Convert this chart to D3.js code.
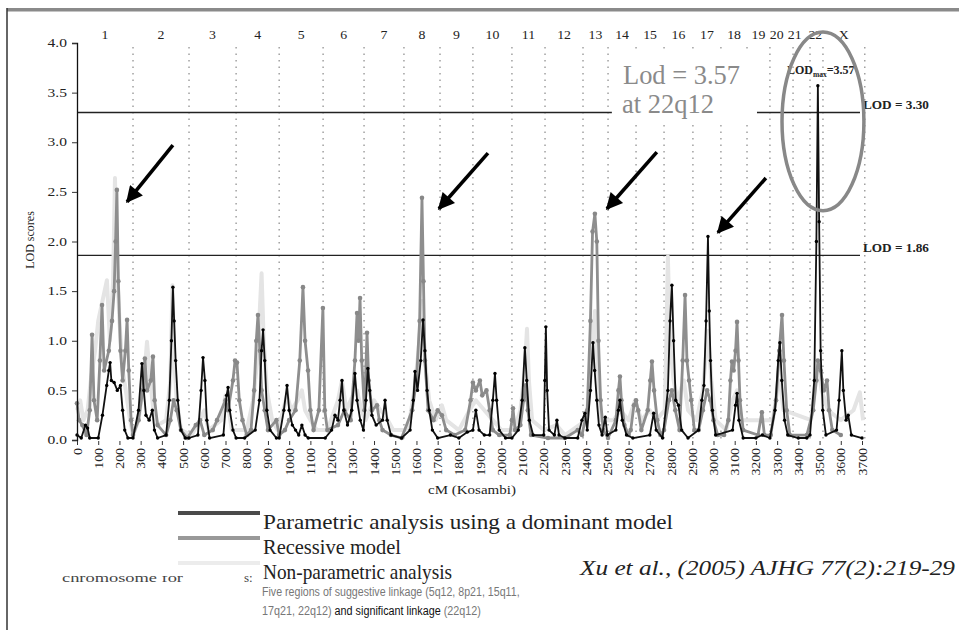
<!DOCTYPE html>
<html>
<head>
<meta charset="UTF-8">
<script src="https://d3js.org/d3.v7.min.js"></script>
<style>
  body { margin: 0; background: #fff; }
  svg text { font-family: "Liberation Serif", "Times New Roman", serif; fill: #222; }
  .chrline { stroke: #a0a0a0; stroke-width: 1.5; stroke-dasharray: 1.5 5; }
  .axis .domain { stroke: #111; stroke-width: 1.3; }
  .axis line { stroke: #333; }
  .xaxis .domain { stroke: none; }
  .caption { font-family: "Liberation Sans", Arial, sans-serif !important; }
</style>
<title>LOD scores</title>
</head>
<body>
<svg id="chart" width="959" height="630"></svg>
<script>
// chromosome names, the cM where each one ends, and where its label sits
const chromNames = ["1","2","3","4","5","6","7","8","9","10","11","12","13","14","15","16","17","18","19","20","21","22","X"];
const chromEnds = [264, 528, 750, 953, 1160, 1353, 1541, 1711, 1866, 2050, 2206, 2385, 2503, 2635, 2767, 2903, 3035, 3158, 3266, 3375, 3455, 3516, 3713];
const chromLabelAt = [132, 396, 639, 852, 1057, 1257, 1447, 1626, 1789, 1958, 2128, 2296, 2444, 2569, 2701, 2835, 2969, 3097, 3212, 3298, 3383, 3480, 3614];

const yTicks = [0, 0.5, 1, 1.5, 2, 2.5, 3, 3.5, 4];
const xTicks = [0,100,200,300,400,500,600,700,800,900,1000,1100,1200,1300,1400,1500,1600,1700,1800,1900,
                2000,2100,2200,2300,2400,2500,2600,2700,2800,2900,3000,3100,3200,3300,3400,3500,3600,3700];
const thresholds = [3.30, 1.86];

// parametric, dominant model  [cM, LOD]
const dominant = [
  [0,0.05],[20,0.02],[40,0.15],[50,0.12],[60,0.02],[100,0.02],[120,0.25],[140,0.55],[150,0.7],[156,0.78],[162,0.6],
  [175,0.58],[190,0.5],[205,0.55],[215,0.3],[225,0.1],[240,0.02],
  [264,0.02],[290,0.3],[306,0.77],[315,0.5],[325,0.25],[340,0.2],[355,0.3],[365,0.1],[380,0.02],[420,0.05],
  [435,0.4],[445,1.0],[452,1.54],[458,1.2],[465,0.8],[475,0.4],[490,0.1],[510,0.02],
  [528,0.02],[570,0.05],[585,0.5],[594,0.83],[603,0.6],[612,0.2],[625,0.02],[690,0.05],[705,0.45],[712,0.53],
  [720,0.3],[735,0.1],[750,0.02],
  [790,0.02],[840,0.1],[860,0.4],[870,0.9],[877,1.11],[885,0.8],[895,0.3],[910,0.1],[940,0.02],
  [953,0.02],[975,0.3],[990,0.55],[1000,0.3],[1015,0.15],[1030,0.1],[1045,0.05],[1060,0.15],[1075,0.05],[1090,0.02],
  [1170,0.02],[1200,0.1],[1216,0.25],[1230,0.2],[1240,0.4],[1249,0.6],[1258,0.3],[1275,0.15],[1295,0.3],
  [1310,0.67],[1320,0.4],[1335,0.2],[1350,0.1],
  [1362,0.4],[1371,0.72],[1380,0.5],[1390,0.25],[1410,0.15],[1440,0.2],[1452,0.4],[1462,0.2],[1480,0.05],[1530,0.02],
  [1570,0.1],[1585,0.4],[1593,0.69],[1605,0.5],[1620,0.8],[1631,1.21],[1640,0.9],[1650,0.5],[1660,0.3],
  [1675,0.1],[1700,0.02],
  [1760,0.05],[1800,0.02],[1840,0.08],
  [1866,0.1],[1880,0.3],[1895,0.1],[1920,0.05],[1945,0.05],[1960,0.4],[1970,0.67],[1978,0.4],[1990,0.1],[2020,0.02],
  [2050,0.02],[2080,0.1],[2098,0.4],[2111,0.93],[2120,0.6],[2132,0.2],[2150,0.05],[2200,0.05],
  [2205,0.6],[2210,1.14],[2216,0.5],[2225,0.1],[2250,0.05],[2262,0.2],[2272,0.05],[2300,0.02],[2360,0.02],
  [2380,0.2],[2394,0.27],[2405,0.1],
  [2420,0.5],[2432,0.98],[2440,0.7],[2450,0.4],[2460,0.15],[2475,0.05],[2490,0.23],[2500,0.05],
  [2540,0.1],[2552,0.3],[2559,0.4],[2570,0.2],[2590,0.05],[2620,0.02],
  [2700,0.05],[2718,0.27],[2730,0.1],[2760,0.02],
  [2785,0.5],[2795,1.2],[2804,1.56],[2812,1.0],[2822,0.4],[2835,0.35],[2850,0.1],[2880,0.02],
  [2930,0.1],[2945,0.4],[2955,0.55],[2965,1.2],[2974,2.05],[2980,1.3],[2986,0.8],[2995,0.3],[3010,0.05],
  [3090,0.1],[3104,0.35],[3111,0.47],[3120,0.2],[3140,0.02],
  [3200,0.02],[3230,0.05],
  [3266,0.02],[3290,0.3],[3305,0.8],[3313,0.98],[3322,0.6],[3335,0.2],[3350,0.05],
  [3400,0.02],[3440,0.02],
  [3455,0.05],[3475,0.6],[3485,2.0],[3492,3.57],[3498,2.2],[3505,0.9],[3515,0.3],
  [3530,0.05],[3580,0.1],[3592,0.4],[3605,0.9],[3612,0.5],[3625,0.2],[3635,0.25],[3650,0.05],[3700,0.02]
];

// recessive model
const recessive = [
  [0,0.37],[10,0.2],[25,0.15],[45,0.05],[60,0.3],[71,1.06],[80,0.4],[95,0.2],[108,0.8],[118,1.36],[128,0.7],
  [150,0.9],[165,1.2],[175,1.5],[182,2.0],[188,2.52],[195,1.6],[205,0.9],[215,0.6],[228,0.9],[236,1.21],
  [244,0.7],[255,0.2],[264,0.05],
  [290,0.2],[310,0.5],[320,0.82],[330,0.5],[348,0.6],[358,0.84],[366,0.4],[380,0.15],[420,0.05],[440,0.2],
  [455,0.4],[470,0.3],[490,0.1],[520,0.02],
  [560,0.15],[580,0.2],[600,0.05],[640,0.1],[660,0.2],[700,0.4],[712,0.3],[735,0.6],[745,0.8],[754,0.78],
  [765,0.4],[780,0.2],
  [800,0.05],[820,0.1],[835,0.5],[845,1.0],[853,1.26],[862,0.9],[870,0.5],[885,0.3],[900,0.1],[940,0.2],[953,0.05],
  [980,0.1],[1000,0.2],[1030,0.3],[1050,0.8],[1065,1.54],[1075,1.0],[1089,0.7],[1100,0.3],[1115,0.1],
  [1140,0.3],[1159,1.33],[1168,0.3],[1180,0.1],
  [1230,0.15],[1260,0.3],[1290,0.2],[1310,0.8],[1320,1.28],[1327,1.0],[1334,1.43],[1342,0.8],[1355,0.3],
  [1367,1.08],[1375,0.6],[1390,0.3],[1414,0.35],[1425,0.2],[1440,0.1],
  [1480,0.05],[1530,0.02],[1580,0.3],[1600,0.6],[1615,1.2],[1626,2.44],[1633,1.6],[1640,0.8],[1655,0.3],
  [1680,0.2],[1700,0.3],[1720,0.25],[1740,0.1],
  [1780,0.05],[1830,0.1],[1855,0.4],[1866,0.58],[1880,0.5],[1899,0.6],[1910,0.45],[1930,0.5],[1945,0.3],
  [1960,0.1],[1990,0.05],
  [2040,0.05],[2050,0.2],[2055,0.32],[2065,0.1],[2090,0.15],[2105,0.4],[2115,0.55],[2125,0.3],[2140,0.05],
  [2220,0.02],[2300,0.02],[2360,0.1],[2380,0.05],
  [2405,0.3],[2420,1.2],[2430,2.1],[2441,2.28],[2450,2.0],[2458,1.0],[2468,0.4],[2480,0.1],
  [2503,0.02],[2540,0.2],[2552,0.5],[2559,0.64],[2566,0.4],[2580,0.15],[2600,0.05],
  [2610,0.1],[2625,0.35],[2635,0.4],[2645,0.3],[2660,0.1],[2690,0.3],[2702,0.6],[2710,0.79],[2720,0.5],
  [2735,0.2],[2750,0.05],
  [2767,0.1],[2790,0.4],[2804,0.5],[2820,0.3],[2840,0.1],[2855,0.8],[2866,1.46],[2875,0.8],[2885,0.6],
  [2895,0.4],[2910,0.1],
  [2930,0.1],[2950,0.3],[2970,0.5],[2985,0.4],[3000,0.2],[3020,0.05],
  [3050,0.05],[3070,0.2],[3080,0.6],[3087,0.79],[3095,0.7],[3104,0.9],[3111,1.19],[3118,0.8],[3125,0.4],[3140,0.1],
  [3210,0.05],[3228,0.28],[3240,0.05],
  [3270,0.05],[3295,0.4],[3310,0.9],[3323,1.26],[3332,0.8],[3345,0.3],[3360,0.05],
  [3440,0.05],[3470,0.3],[3485,0.6],[3492,0.8],[3505,0.7],[3520,0.5],[3535,0.6],[3545,0.3],[3560,0.1],[3600,0.05]
];

// non-parametric analysis
const nonParam = [
  [0,0.3],[15,0.4],[30,0.2],[50,0.3],[65,0.6],[85,0.9],[100,1.2],[141,1.61],[155,1.0],[170,1.6],[179,2.64],
  [188,1.8],[200,1.2],[215,0.7],[230,0.5],[250,0.2],[264,0.05],
  [290,0.2],[315,0.6],[330,0.99],[345,0.6],[360,0.3],[380,0.15],[420,0.2],[440,0.6],[450,1.56],[458,0.8],
  [470,0.4],[490,0.1],
  [540,0.05],[580,0.2],[600,0.3],[620,0.1],[680,0.2],[700,0.45],[715,0.3],[730,0.1],
  [800,0.1],[830,0.4],[850,0.8],[870,1.68],[880,1.0],[895,0.5],[920,0.2],[945,0.1],
  [960,0.2],[990,0.45],[1010,0.3],[1040,0.4],[1060,0.5],[1075,0.3],[1100,0.2],[1130,0.1],
  [1180,0.1],[1230,0.4],[1249,0.6],[1270,0.3],[1300,0.45],[1320,0.5],[1340,0.3],
  [1360,0.2],[1400,0.4],[1430,0.3],[1452,0.25],[1490,0.1],
  [1560,0.1],[1590,0.5],[1610,0.9],[1626,1.4],[1640,0.8],[1660,0.4],[1690,0.2],[1720,0.35],[1740,0.2],
  [1800,0.1],[1850,0.3],[1880,0.4],[1920,0.3],[1960,0.2],[2000,0.1],
  [2060,0.1],[2090,0.3],[2110,0.7],[2121,1.12],[2130,0.6],[2145,0.2],
  [2200,0.1],[2260,0.15],[2300,0.05],
  [2400,0.2],[2420,0.6],[2441,1.3],[2455,0.7],[2470,0.2],
  [2530,0.2],[2560,0.3],[2600,0.2],[2630,0.4],[2660,0.2],[2700,0.3],[2730,0.2],
  [2770,0.3],[2778,1.0],[2785,1.85],[2795,1.0],[2812,0.6],[2830,0.4],[2860,0.6],[2880,0.3],
  [2920,0.2],[2950,0.5],[2974,1.1],[2990,0.6],[3010,0.2],
  [3060,0.1],[3090,0.4],[3111,0.5],[3130,0.2],
  [3280,0.2],[3300,0.5],[3313,0.6],[3330,0.3],
  [3460,0.2],[3480,0.6],[3492,0.75],[3510,0.5],[3540,0.3],[3600,0.2],[3660,0.3],[3690,0.48],[3705,0.2]
];

// arrows pointing at the suggestive peaks: tail and tip in [cM, LOD]
const arrows = [
  [[452, 2.97], [236, 2.40]],
  [[1937, 2.89], [1706, 2.33]],
  [[2733, 2.90], [2498, 2.33]],
  [[3247, 2.64], [3021, 2.09]]
];

const legendItems = [
  {label: "Parametric analysis using a dominant model", color: "#4a4a4a", len: 410},
  {label: "Recessive model", color: "#999", len: 138},
  {label: "Non-parametric analysis", color: "#ececec", len: 189}
];

const svg = d3.select("svg#chart");
const x = d3.scaleLinear().domain([0, 3700]).range([77, 862]);
const y = d3.scaleLinear().domain([0, 4]).range([440, 43]);

// stretch a text element by a factor
function fit(sel, factor) {
  sel.each(function() {
    const w = this.getComputedTextLength();
    d3.select(this).attr("textLength", w * factor).attr("lengthAdjust", "spacingAndGlyphs");
  });
}

// frame
svg.append("rect").attr("x", 7).attr("y", 8).attr("width", 952).attr("height", 3.5).attr("fill", "#8a8a8a");
svg.append("line").attr("x1", 7).attr("x2", 7).attr("y1", 8).attr("y2", 630)
   .attr("stroke", "#333").attr("stroke-width", 1.5);

// chromosome separators
svg.selectAll("line.chrline").data(chromEnds).enter().append("line")
   .attr("class", "chrline")
   .attr("x1", d => x(d)).attr("x2", d => x(d))
   .attr("y1", 47).attr("y2", y(0));

svg.selectAll("text.chrname").data(chromNames).enter().append("text")
   .attr("class", "chrname")
   .attr("x", (d, i) => x(chromLabelAt[i]))
   .attr("y", 39)
   .attr("text-anchor", "middle")
   .attr("font-size", 12)
   .text(d => d)
   .call(fit, 1.15);

// threshold lines
svg.selectAll("line.thr").data(thresholds).enter().append("line")
   .attr("class", "thr")
   .attr("x1", x(0)).attr("x2", x(3700) - 2)
   .attr("y1", d => y(d)).attr("y2", d => y(d))
   .attr("stroke", "#222").attr("stroke-width", 1.3);

// curves
const line = d3.line().x(d => x(d[0])).y(d => y(d[1]));
svg.append("path").datum(nonParam).attr("d", line)
   .attr("fill", "none").attr("stroke", "#e4e4e4").attr("stroke-width", 4).attr("stroke-linejoin", "round");
svg.append("path").datum(recessive).attr("d", line)
   .attr("fill", "none").attr("stroke", "#8e8e8e").attr("stroke-width", 2.8).attr("stroke-linejoin", "round");
svg.selectAll("circle.rec").data(recessive).enter().append("circle")
   .attr("class", "rec").attr("cx", d => x(d[0])).attr("cy", d => y(d[1])).attr("r", 2.3).attr("fill", "#888");
svg.append("path").datum(dominant).attr("d", line)
   .attr("fill", "none").attr("stroke", "#111").attr("stroke-width", 1.8).attr("stroke-linejoin", "round");
svg.selectAll("circle.dom").data(dominant).enter().append("circle")
   .attr("class", "dom").attr("cx", d => x(d[0])).attr("cy", d => y(d[1])).attr("r", 1.7).attr("fill", "#000");

// axes
const yAxis = d3.axisLeft(y).tickValues(yTicks).tickFormat(d3.format(".1f")).tickSize(5).tickPadding(5);
const gy = svg.append("g").attr("class", "axis").attr("transform", "translate(77,0)").call(yAxis);
gy.selectAll("text").attr("font-size", 11.5).attr("font-family", "Liberation Serif").attr("fill", "#222").call(fit, 1.35);

const xAxis = d3.axisBottom(x).tickValues(xTicks).tickFormat(d3.format("d")).tickSize(4);
const gx = svg.append("g").attr("class", "axis xaxis").attr("transform", "translate(0," + (y(0) + 1) + ")").call(xAxis);
gx.selectAll("text")
  .attr("transform", "rotate(-90)")
  .attr("x", -7).attr("y", 0).attr("dy", "0.35em")
  .attr("text-anchor", "end")
  .attr("font-size", 11.5).attr("font-family", "Liberation Serif").attr("fill", "#111")
  .call(fit, 1.2);

svg.append("text").attr("x", 472).attr("y", 494).attr("text-anchor", "middle")
   .attr("font-size", 12.5).text("cM (Kosambi)").call(fit, 1.2);
svg.append("text").attr("transform", "translate(34,240) rotate(-90)").attr("text-anchor", "middle")
   .attr("font-size", 12).text("LOD scores");

// threshold labels
svg.append("text").attr("x", 863).attr("y", y(3.30) - 3).attr("font-size", 11.5).attr("font-weight", "bold")
   .text("LOD = 3.30").call(fit, 1.15);
svg.append("text").attr("x", 863).attr("y", y(1.86) - 3).attr("font-size", 11.5).attr("font-weight", "bold")
   .text("LOD = 1.86").call(fit, 1.15);

const lm = svg.append("text").attr("x", 787).attr("y", 74).attr("font-size", 12).attr("font-weight", "bold");
lm.append("tspan").text("LOD");
lm.append("tspan").attr("font-size", 7.5).attr("dy", 3).text("max");
lm.append("tspan").attr("dy", -3).text("=3.57");

// white box with the headline
svg.append("rect").attr("x", x(2521)).attr("y", y(3.94)).attr("width", x(3205) - x(2521)).attr("height", y(3.19) - y(3.94))
   .attr("fill", "#fff");
svg.append("text").attr("x", 623).attr("y", 84).attr("font-size", 28).style("fill", "#8a8a8a")
   .attr("textLength", 117).attr("lengthAdjust", "spacingAndGlyphs").text("Lod = 3.57");
svg.append("text").attr("x", 622).attr("y", 113).attr("font-size", 28).style("fill", "#8a8a8a")
   .attr("textLength", 92).attr("lengthAdjust", "spacingAndGlyphs").text("at 22q12");

// ellipse around the chr 22 peak
svg.append("ellipse").attr("cx", x(3516)).attr("cy", y(3.21))
   .attr("rx", x(3516 + 193) - x(3516)).attr("ry", y(3.21 - 0.9) - y(3.21))
   .attr("fill", "none").attr("stroke", "#888").attr("stroke-width", 3.5);

// arrows
svg.append("defs").append("marker").attr("id", "head")
   .attr("viewBox", "0 0 10 10").attr("refX", 9).attr("refY", 5)
   .attr("markerWidth", 5).attr("markerHeight", 4.6).attr("orient", "auto")
   .attr("markerUnits", "strokeWidth")
   .append("path").attr("d", "M0,0 L10,5 L0,10 z").attr("fill", "#000");
svg.selectAll("line.arrow").data(arrows).enter().append("line")
   .attr("class", "arrow")
   .attr("x1", d => x(d[0][0])).attr("y1", d => y(d[0][1]))
   .attr("x2", d => x(d[1][0])).attr("y2", d => y(d[1][1]))
   .attr("stroke", "#000").attr("stroke-width", 3.6).attr("marker-end", "url(#head)");

// legend
const leg = svg.selectAll("g.leg").data(legendItems).enter().append("g")
   .attr("class", "leg").attr("transform", (d, i) => "translate(0," + (513 + i * 25) + ")");
leg.append("line").attr("x1", 178).attr("x2", 260).attr("y1", 0).attr("y2", 0)
   .attr("stroke", d => d.color).attr("stroke-width", 4);
leg.append("text").attr("x", 263).attr("y", 16)
   .attr("font-size", 21).attr("textLength", d => d.len).attr("lengthAdjust", "spacingAndGlyphs")
   .text(d => d.label);

svg.append("text").attr("x", 580).attr("y", 575).attr("font-size", 21).attr("font-style", "italic")
   .attr("textLength", 375).attr("lengthAdjust", "spacingAndGlyphs")
   .text("Xu et al., (2005) AJHG 77(2):219-29");

// remnant of a clipped caption
svg.append("clipPath").attr("id", "cut").append("rect").attr("x", 0).attr("y", 576).attr("width", 300).attr("height", 6);
svg.append("text").attr("x", 62).attr("y", 582).attr("font-size", 13).attr("clip-path", "url(#cut)")
   .attr("textLength", 121).attr("lengthAdjust", "spacingAndGlyphs").style("fill", "#444").text("chromosome for");
svg.append("text").attr("x", 244).attr("y", 582).attr("font-size", 13).attr("clip-path", "url(#cut)")
   .style("fill", "#444").text("s:");

// caption, squeezed horizontally
function squeeze(sel, width) {
  const w = sel.node().getComputedTextLength();
  sel.attr("transform", "translate(" + sel.attr("data-x") + "," + sel.attr("data-y") + ") scale(" + (width / w) + ",1)");
}
const c1 = svg.append("text").attr("class", "caption").attr("data-x", 262).attr("data-y", 596).attr("font-size", 13.5)
   .style("fill", "#777").text("Five regions of suggestive linkage (5q12, 8p21, 15q11,");
squeeze(c1, 258);
const c2 = svg.append("text").attr("class", "caption").attr("data-x", 262).attr("data-y", 615).attr("font-size", 13.5)
   .style("fill", "#777");
c2.append("tspan").text("17q21, 22q12) ");
c2.append("tspan").style("fill", "#111").text("and significant linkage");
c2.append("tspan").text(" (22q12)");
squeeze(c2, 219);
</script>
</body>
</html>
